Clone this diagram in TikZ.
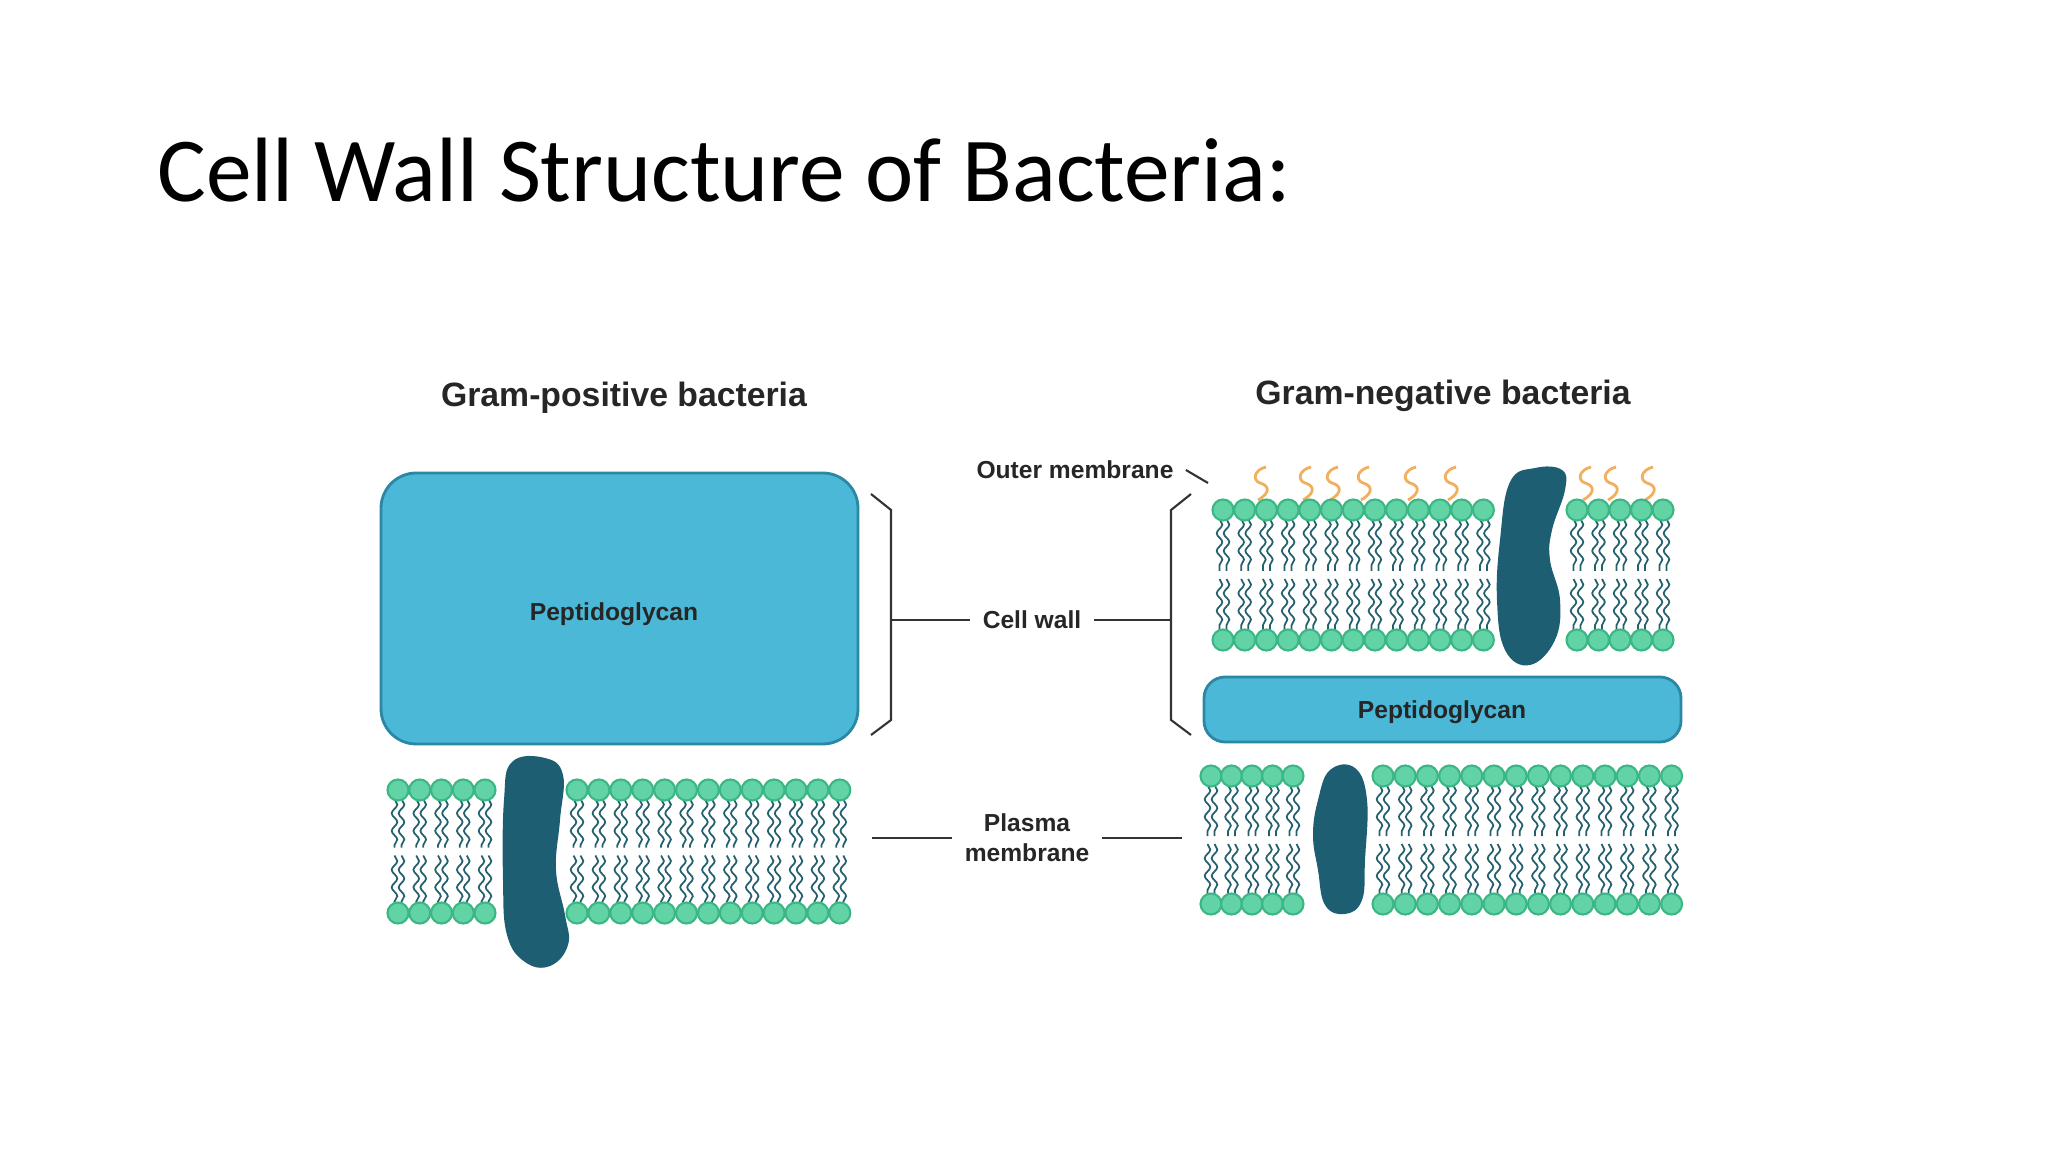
\documentclass[tikz,border=0pt]{standalone}
\usepackage{fontspec}
\setmainfont{Liberation Sans}
\newfontfamily\titlefont{Carlito}
\usetikzlibrary{decorations.pathmorphing}
\definecolor{mypepcolor}{HTML}{4AB8D6}
\definecolor{mypepedge}{HTML}{2B87A3}
\definecolor{myheadcolor}{HTML}{62D3A4}
\definecolor{myheadedge}{HTML}{3BB685}
\definecolor{mytailcolor}{HTML}{24606E}
\definecolor{myprotcolor}{HTML}{1D5E73}
\definecolor{mylpscolor}{HTML}{F0B060}

\tikzset{
  head/.style={fill=myheadcolor},
  tail/.style={draw=mytailcolor, line width=0.5pt, decorate,
    decoration={snake, amplitude=0.8pt, segment length=5pt}},
  pep/.style={draw=mypepedge, fill=mypepcolor, line width=0.8pt, rounded corners=6pt},
  prot/.style={fill=myprotcolor},
  lps/.style={draw=mylpscolor, line width=0.8pt},
  brace/.style={draw=black!80, line width=0.6pt},
  lbl/.style={font=\fontsize{7pt}{8.5pt}\selectfont\bfseries, align=center, text=black!85},
  side/.style={font=\fontsize{9.6pt}{11pt}\selectfont\bfseries, text=black!85},
}

% lipids: x0, dx, last index, top head y, bottom head y
\newcommand{\lipids}[5]{%
  \foreach \i in {0,...,#3} {%
    \pgfmathsetmacro{\lx}{#1+#2*\i}%
    \pgfmathsetmacro{\lm}{(#4+#5)/2}%
    \foreach \s in {-3.5,3.5} {%
      \draw[tail] (\lx+\s,#4+9) -- (\lx+\s,\lm-4);
      \draw[tail] (\lx+\s,\lm+4) -- (\lx+\s,#5-9);
    }%
    \fill[head] (\lx,#4) circle (0.105cm);
    \fill[head] (\lx,#5) circle (0.105cm);
    \draw[myheadedge, line width=0.6pt] (\lx,#4) circle (0.105cm) (\lx,#5) circle (0.105cm);
  }}
% lps squiggle at x
\newcommand{\lpschain}[1]{%
  \draw[lps] (#1-2,500) .. controls (#1+12,492) and (#1+8,485) .. (#1,483)
    .. controls (#1-8,480) and (#1-6,470) .. (#1+6,467);}

\begin{document}
\begin{tikzpicture}[x=0.01cm, y=-0.01cm]
\useasboundingbox (0,0) rectangle (2048,1152);

\node[anchor=base west, inner sep=0, font=\titlefont\fontsize{26pt}{26pt}\selectfont] (title) at (157,202) {Cell Wall Structure of Bacteria:};

\node[side] (gpos) at (624,398) {Gram-positive bacteria};
\node[side] (gneg) at (1443,396) {Gram-negative bacteria};

% gram-positive
\draw[pep, rounded corners=10pt] (381,473) rectangle (858,744);
\node[lbl] (pepthick) at (614,614) {Peptidoglycan};
\lipids{398}{21.75}{4}{790}{913}
\lipids{577}{21.9}{12}{790}{913}
\fill[prot] plot[smooth cycle, tension=0.7] coordinates {(512,762) (545,758) (563,775) (560,820) (556,870) (565,915) (568,945) (550,966) (525,962) (507,935) (503,880) (504,800)};

% gram-negative
\foreach \x in {1260,1305,1332,1363,1410,1450,1585,1610,1647} {\lpschain{\x}}
\lipids{1223}{21.7}{12}{510}{640}
\lipids{1577}{21.5}{4}{510}{640}
\fill[prot] plot[smooth cycle, tension=0.7] coordinates {(1510,482) (1535,468) (1562,470) (1565,490) (1552,530) (1550,560) (1560,600) (1555,640) (1530,665) (1505,650) (1497,600) (1500,540)};
\draw[pep] (1204,677) rectangle (1681,742);
\node[lbl] (pepthin) at (1442,712) {Peptidoglycan};
\lipids{1211}{20.5}{4}{776}{904}
\lipids{1383}{22.2}{13}{776}{904}
\fill[prot] plot[smooth cycle, tension=0.7] coordinates {(1330,770) (1355,768) (1367,800) (1365,860) (1362,900) (1345,914) (1325,905) (1318,870) (1313,835) (1318,800)};

% labels
\node[lbl] (cellwall) at (1032,620) {Cell wall};
\node[lbl] (outer) at (1075,470) {Outer membrane};
\node[lbl] (plasma) at (1027,838) {Plasma\\membrane};

% brackets and leaders
\draw[brace] (871,494) -- (891,510) -- (891,720) -- (871,735);
\draw[brace] (1191,494) -- (1171,510) -- (1171,720) -- (1191,735);
\coordinate (cwL) at (891,620);
\coordinate (cwR) at (1171,620);
\draw[brace] (cwL) -- (cellwall.west);
\draw[brace] (cellwall.east) -- (cwR);
\coordinate (outertip) at (1208,483);
\draw[brace] (outer.east) -- (outertip);
\coordinate (plasmaL) at (872,838);
\coordinate (plasmaR) at (1182,838);
\draw[brace] (plasmaL) -- (plasma.west);
\draw[brace] (plasma.east) -- (plasmaR);
\end{tikzpicture}
\end{document}
